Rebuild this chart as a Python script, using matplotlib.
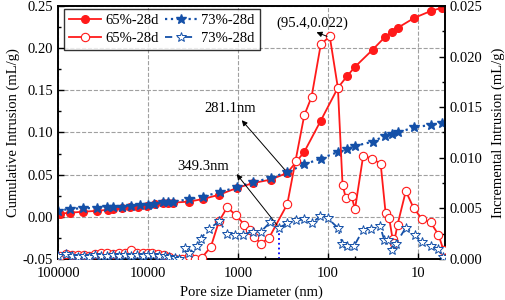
import matplotlib
matplotlib.use('Agg')
import matplotlib.pyplot as plt
from matplotlib.ticker import FixedLocator, FuncFormatter, MultipleLocator
from matplotlib.lines import Line2D

plt.rcParams['font.family'] = ['Liberation Serif', 'DejaVu Serif']
plt.rcParams['font.size'] = 10

# cumulative intrusion, 65%-28d (left axis)
cum65_d = [95000, 73600, 52400, 37100, 27600, 24300, 19600, 15850, 12800, 10350,
           8360, 6760, 6000, 5250, 3500, 2450, 1630, 1035, 676, 434, 283, 183,
           120, 77.4, 61, 49.8, 31.9, 23.3, 19.6, 16.8, 10.9, 7.2, 5.37]
cum65_v = [0.0036, 0.0048, 0.006, 0.007, 0.0083, 0.0092, 0.0100, 0.011, 0.012, 0.013,
           0.0150, 0.0160, 0.0165, 0.0167, 0.018, 0.021, 0.026, 0.034, 0.040, 0.044, 0.052, 0.077,
           0.114, 0.153, 0.167, 0.178, 0.198, 0.213, 0.219, 0.224, 0.236, 0.244, 0.248]

# cumulative intrusion, 73%-28d (left axis)
cum73_d = [99000, 73600, 52400, 37100, 28700, 24300, 19600, 15400, 12300, 10100,
           8500, 6760, 6000, 5250, 3500, 2450, 1600, 1035, 676, 434, 283, 183,
           120, 76.5, 61.8, 49.8, 31.9, 23.3, 19.6, 16.8, 10.9, 7.2, 5.37]
cum73_v = [0.007, 0.0095, 0.0100, 0.0105, 0.011, 0.0115, 0.012, 0.013, 0.014, 0.0145,
           0.015, 0.017, 0.0175, 0.018, 0.0206, 0.024, 0.029, 0.035, 0.041, 0.046, 0.053, 0.062,
           0.069, 0.077, 0.080, 0.084, 0.089, 0.096, 0.098, 0.100, 0.106, 0.109, 0.111]

# incremental intrusion, 65%-28d (right axis)
inc65_d = [95000, 82000, 70000, 60000, 52000, 45000, 39000, 33000, 28500, 24500,
           21000, 18000, 15400, 13300, 11500, 10000, 9100, 7800, 6700, 5800, 5000,
           4200, 3470, 3000, 2530, 2000, 1630, 1315, 1050, 851, 736, 660, 555, 450,
           283, 229, 183, 152, 120, 95.4, 77.4, 68.7, 63, 54.6, 50, 40.5, 32.1, 25.9,
           22.8, 20.8, 19.1, 18.4, 16.8, 13.6, 11.1, 8.9, 7.2, 5.9, 5.2]
inc65_v = [0.0003, 0.0005, 0.0004, 0.0004, 0.0004, 0.0003, 0.0005, 0.0006, 0.0006, 0.0005,
           0.0006, 0.0006, 0.0009, 0.0006, 0.0006, 0.0006, 0.0006, 0.0005, 0.0004, 0.0002, 0.0,
           0.0, 0.0003, 0.0, 0.0001, 0.0012, 0.0037, 0.0051, 0.0043, 0.0034, 0.0029, 0.0022, 0.0015, 0.0021,
           0.0054, 0.0097, 0.0142, 0.0160, 0.0212, 0.0220, 0.0169, 0.0073, 0.0060, 0.0062, 0.0049, 0.0102, 0.0099, 0.0094,
           0.0045, 0.0040, 0.0020, 0.0016, 0.0034, 0.0067, 0.0050, 0.0039, 0.0036, 0.0024, 0.0009]

# incremental intrusion, 73%-28d (right axis)
inc73_d = [99000, 82000, 70000, 60000, 52000, 45000, 39000, 33000, 28500, 24500,
           21000, 18000, 15400, 13300, 11500, 10000, 8730, 7500, 6500, 5800, 5000,
           4500, 3880, 3470, 2880, 2600, 2080, 1615, 1315, 1080, 887, 687, 555, 440,
           348, 283, 227, 185, 152, 123, 100, 78, 69, 61, 51, 40.5, 33, 26.4,
           23.7, 21.4, 19.3, 17.5, 13.6, 10.8, 9.1, 7.2, 5.9, 5.3]
inc73_v = [0.0003, 0.0005, 0.0003, 0.0002, 0.0003, 0.0002, 0.0004, 0.0003, 0.0003, 0.0004,
           0.0003, 0.0004, 0.0003, 0.0004, 0.0003, 0.0004, 0.0004, 0.0003, 0.0003, 0.0002, 0.0001,
           0.0, 0.0011, 0.0006, 0.0013, 0.0020, 0.0030, 0.0037, 0.0025, 0.0024, 0.0024, 0.0027, 0.0027, 0.0036,
           0.0031, 0.0035, 0.0038, 0.0039, 0.0035, 0.0042, 0.0040, 0.0031, 0.0015, 0.0013, 0.0013, 0.0029, 0.0030, 0.0033,
           0.0019, 0.0019, 0.0009, 0.0015, 0.0031, 0.0024, 0.0017, 0.0013, 0.0010, 0.0002]

red = '#ff1a1a'
blue = '#1450a8'

fig = plt.figure(figsize=(5.05, 3.0), dpi=100)
ax1 = fig.add_axes([0.115, 0.137, 0.766, 0.843])
ax2 = ax1.twinx()

ax1.set_xscale('log')
ax1.set_xlim(100000, 5)
ax1.set_ylim(-0.05, 0.25)
ax2.set_ylim(0, 0.025)

ax1.plot(cum65_d, cum65_v, '-', color=red, lw=1.3, marker='o', ms=5.5, zorder=3)
ax1.plot(cum73_d, cum73_v, ':', color=blue, lw=1.6, marker='*', ms=7, zorder=4)
ax2.plot(inc65_d, inc65_v, '-', color=red, lw=1.3, marker='o', ms=6, mfc='white', mec=red, mew=0.8, zorder=3)
ax2.plot(inc73_d, inc73_v, color=blue, lw=1.3, ls=(0, (4, 3, 1, 3)), marker='*', ms=7,
         mfc='white', mec=blue, mew=0.7, zorder=4)

# grid from left axis only
ax1.grid(True, which='major', ls='--', color='#a0a0a0', lw=0.8)
ax1.set_axisbelow(True)

ax1.xaxis.set_major_locator(FixedLocator([100000, 10000, 1000, 100, 10]))
ax1.xaxis.set_minor_locator(FixedLocator([50000, 5000, 500, 50]))
ax1.xaxis.set_major_formatter(FuncFormatter(lambda v, p: '%d' % v))
ax1.xaxis.set_minor_formatter(FuncFormatter(lambda v, p: ''))
ax1.yaxis.set_major_locator(MultipleLocator(0.05))
ax1.yaxis.set_minor_locator(MultipleLocator(0.025))
ax1.yaxis.set_major_formatter(FuncFormatter(lambda v, p: '%.2f' % v))
ax2.yaxis.set_major_locator(MultipleLocator(0.005))
ax2.yaxis.set_minor_locator(MultipleLocator(0.0025))
ax2.yaxis.set_major_formatter(FuncFormatter(lambda v, p: '%.3f' % v))

for ax in (ax1, ax2):
    ax.tick_params(which='major', direction='in', length=4, width=1, labelsize=10.5)
    ax.tick_params(which='minor', direction='in', length=2.5, width=1)
    for s in ax.spines.values():
        s.set_linewidth(1.2)
ax1.tick_params(axis='x', which='major', pad=6)

ax1.set_xlabel('Pore size Diameter (nm)', fontsize=10.5, labelpad=4)
ax1.set_ylabel('Cumulative Intrusion (mL/g)', fontsize=10.5, labelpad=2)
ax2.set_ylabel('Incremental Intrusion (mL/g)', fontsize=10.5, labelpad=6)

# annotations
ax1.annotate('', xy=(950, 0.117), xytext=(281.1, 0.052),
             arrowprops=dict(arrowstyle='-|>', color='black', lw=0.7, mutation_scale=8))
ax1.text(1230, 0.129, '281.1nm', ha='center', va='center', fontsize=10.5)

ax2.plot([349.3, 349.3], [0, 0.0031], ':', color='#0000ff', lw=1.3)
ax2.annotate('', xy=(1080, 0.0086), xytext=(349.3, 0.0031),
             arrowprops=dict(arrowstyle='-|>', color='black', lw=0.7, mutation_scale=8))
ax2.text(2450, 0.0091, '349.3nm', ha='center', va='center', fontsize=10.5)

ax2.annotate('', xy=(143, 0.0225), xytext=(95.4, 0.0219),
             arrowprops=dict(arrowstyle='-|>', color='black', lw=0.7, mutation_scale=8))
ax2.text(150, 0.0233, '(95.4,0.022)', ha='center', va='center', fontsize=10.5)

handles = [
    Line2D([], [], color=red, lw=1.3, marker='o', ms=5.5),
    Line2D([], [], color=red, lw=1.3, marker='o', ms=6, mfc='white', mec=red, mew=0.8),
    Line2D([], [], color=blue, lw=1.6, ls=':', marker='*', ms=7),
    Line2D([], [], color=blue, lw=1.3, ls=(0, (4, 3, 1, 3)), marker='*', ms=7, mfc='white', mec=blue, mew=0.7),
]
labels = ['65%-28d', '65%-28d', '73%-28d', '73%-28d']
leg = ax2.legend(handles, labels, ncol=2, loc='upper left', bbox_to_anchor=(0.016, 0.988),
                 fontsize=10.5, frameon=True, fancybox=False, edgecolor='black',
                 handlelength=2.2, columnspacing=0.4, handletextpad=0.3,
                 borderpad=0.35, labelspacing=0.3, borderaxespad=0)
leg.get_frame().set_linewidth(1.0)

fig.savefig('out.png', dpi=100)
